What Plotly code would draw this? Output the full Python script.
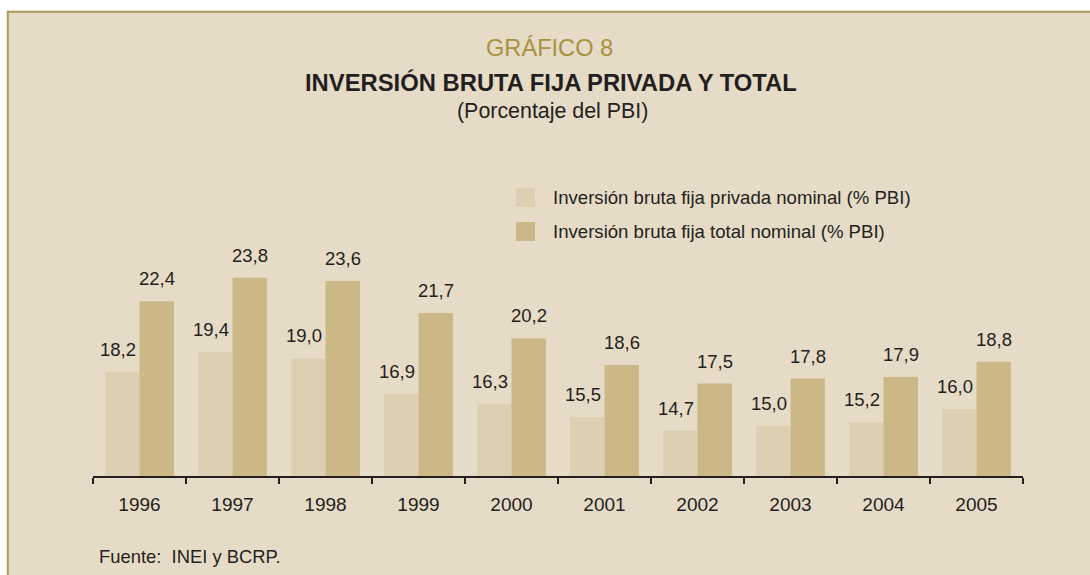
import plotly.graph_objects as go

years = ["1996", "1997", "1998", "1999", "2000", "2001", "2002", "2003", "2004", "2005"]
privada = [18.2, 19.4, 19.0, 16.9, 16.3, 15.5, 14.7, 15.0, 15.2, 16.0]
total = [22.4, 23.8, 23.6, 21.7, 20.2, 18.6, 17.5, 17.8, 17.9, 18.8]
name_priv = "Inversión bruta fija privada nominal (% PBI)"
name_tot = "Inversión bruta fija total nominal (% PBI)"

BG = "#e6dbc6"
C_PRIV = "#ddcfb1"
C_TOT = "#cbb886"
GOLD = "#a89141"
TXT = "#231f20"
BORDER = "#a89a58"
FONT = "Liberation Sans, Arial, sans-serif"

W, H = 1090, 575
L, R, T, B = 93, 1023, 224, 476


def xp(px):
    return (px - L) / (R - L)


def yp(py):
    return (B - py) / (B - T)


def fmt(v):
    return f"{v:.1f}".replace(".", ",")


fig = go.Figure()
fig.add_trace(go.Bar(x=years, y=privada, name=name_priv, marker=dict(color=C_PRIV, line_width=0),
                     showlegend=False, hoverinfo="skip"))
fig.add_trace(go.Bar(x=years, y=total, name=name_tot, marker=dict(color=C_TOT, line_width=0),
                     showlegend=False, hoverinfo="skip"))

ann = []
for i, v in enumerate(privada):
    ann.append(dict(x=i, y=v, xref="x", yref="y", text=fmt(v), showarrow=False,
                    xshift=-22, yshift=10, yanchor="bottom", xanchor="center",
                    font=dict(size=18.5, color=TXT, family=FONT)))
for i, v in enumerate(total):
    ann.append(dict(x=i, y=v, xref="x", yref="y", text=fmt(v), showarrow=False,
                    xshift=17, yshift=10, yanchor="bottom", xanchor="center",
                    font=dict(size=18.5, color=TXT, family=FONT)))

# titles
ann.append(dict(x=xp(549), y=yp(48), xref="paper", yref="paper", text="GRÁFICO 8", showarrow=False,
                xanchor="center", yanchor="middle", font=dict(size=23.6, color=GOLD, family=FONT)))
ann.append(dict(x=xp(551), y=yp(82), xref="paper", yref="paper",
                text="<b>INVERSIÓN BRUTA FIJA PRIVADA Y TOTAL</b>", showarrow=False,
                xanchor="center", yanchor="middle", font=dict(size=23.8, color=TXT, family=FONT)))
ann.append(dict(x=xp(552), y=yp(111), xref="paper", yref="paper", text="(Porcentaje del PBI)",
                showarrow=False, xanchor="center", yanchor="middle",
                font=dict(size=21.4, color=TXT, family=FONT)))
# legend texts
ann.append(dict(x=xp(551), y=yp(197), xref="paper", yref="paper", text=name_priv, showarrow=False,
                xanchor="left", yanchor="middle", font=dict(size=18.6, color=TXT, family=FONT)))
ann.append(dict(x=xp(551), y=yp(231), xref="paper", yref="paper", text=name_tot, showarrow=False,
                xanchor="left", yanchor="middle", font=dict(size=18.6, color=TXT, family=FONT)))
# source
ann.append(dict(x=xp(97), y=yp(556), xref="paper", yref="paper", text="Fuente:  INEI y BCRP.",
                showarrow=False, xanchor="left", yanchor="middle",
                font=dict(size=18.4, color=TXT, family=FONT)))

shapes = [
    # legend swatches
    dict(type="rect", xref="paper", yref="paper", x0=xp(516), x1=xp(535), y0=yp(207), y1=yp(188),
         fillcolor=C_PRIV, line_width=0),
    dict(type="rect", xref="paper", yref="paper", x0=xp(516), x1=xp(535), y0=yp(241), y1=yp(222),
         fillcolor=C_TOT, line_width=0),
    # white margins outside the frame
    dict(type="rect", xref="paper", yref="paper", x0=xp(-10), x1=xp(1100), y0=yp(11), y1=yp(-10),
         fillcolor="white", line_width=0),
    dict(type="rect", xref="paper", yref="paper", x0=xp(-10), x1=xp(7), y0=yp(590), y1=yp(-10),
         fillcolor="white", line_width=0),
    # frame lines
    dict(type="line", xref="paper", yref="paper", x0=xp(7), x1=xp(1100), y0=yp(11.8), y1=yp(11.8),
         line=dict(color=BORDER, width=2)),
    dict(type="line", xref="paper", yref="paper", x0=xp(7.8), x1=xp(7.8), y0=yp(11), y1=yp(590),
         line=dict(color=BORDER, width=2)),
]

fig.update_layout(
    width=W, height=H,
    margin=dict(l=L, r=W - R, t=T, b=H - B, pad=0),
    paper_bgcolor=BG, plot_bgcolor=BG,
    barmode="group", bargap=0.26, bargroupgap=0,
    annotations=ann, shapes=shapes,
    font=dict(family=FONT, color=TXT),
    showlegend=False,
)
fig.update_xaxes(type="category", range=[-0.5, len(years) - 0.5], autorange=False,
                 showline=True, linecolor=TXT, linewidth=1.5,
                 ticks="outside", tickson="boundaries", ticklen=6, tickwidth=1.5, tickcolor=TXT,
                 tickfont=dict(size=19, color=TXT, family=FONT), ticklabelstandoff=10, tickangle=0,
                 showgrid=False, zeroline=False, fixedrange=True)
fig.update_yaxes(range=[12, 27], visible=False, showgrid=False, zeroline=False, fixedrange=True)

fig.write_html("out.html", config={"displayModeBar": False},
               post_script="document.body.style.margin='0';document.body.style.overflow='hidden';")
